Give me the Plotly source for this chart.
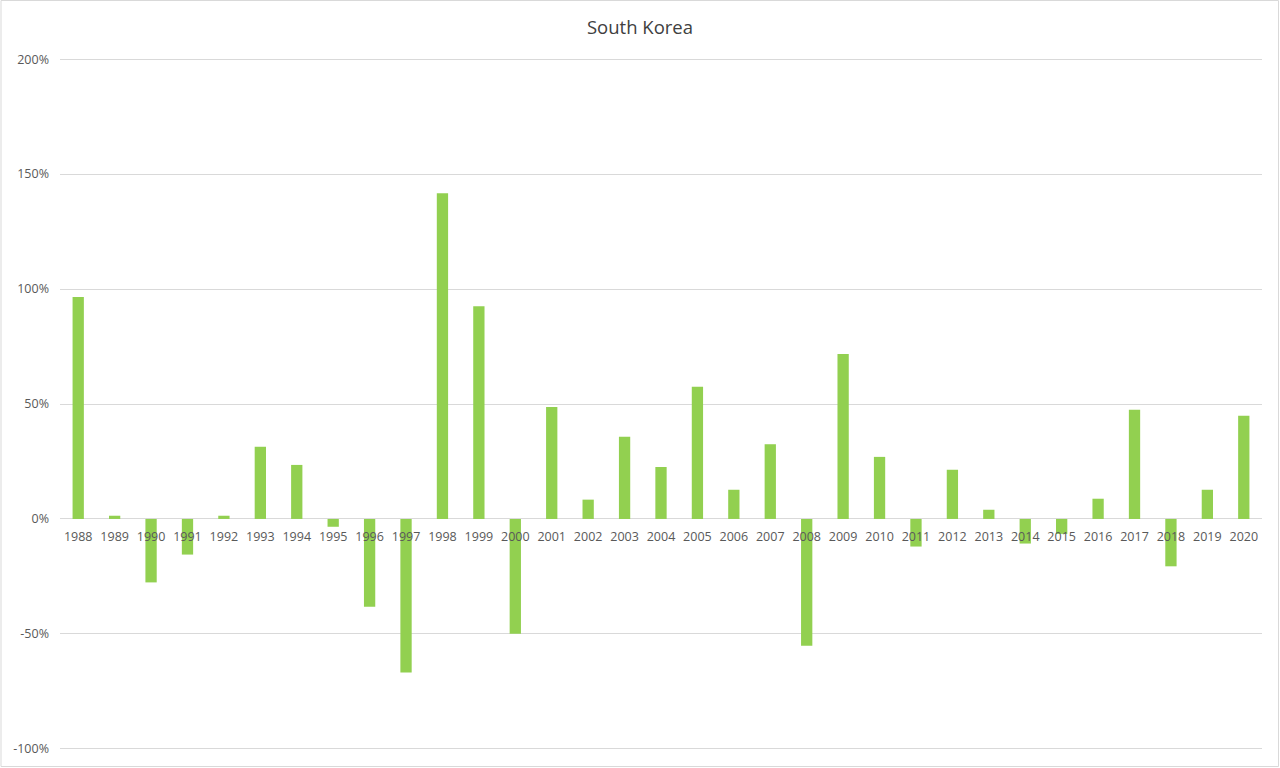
import plotly.graph_objects as go

years = [str(y) for y in range(1988, 2021)]
values = [96.5, 1.4, -27.6, -15.5, 1.4, 31.4, 23.5, -3.4, -38.2, -66.8,
          141.7, 92.5, -49.9, 48.7, 8.4, 35.8, 22.6, 57.5, 12.7, 32.5,
          -55.2, 71.7, 27.0, -12.0, 21.4, 4.0, -10.7, -6.5, 8.8, 47.5,
          -20.6, 12.7, 44.9]
ytick_vals = [-100, -50, 0, 50, 100, 150, 200]
ytick_text = ["-100%", "-50%", "0%", "50%", "100%", "150%", "200%"]

W, H = 1280, 768
L, R, T, B = 60, 18, 58, 18
pw, ph = W - L - R, H - T - B
y_lo, y_hi = -100.5, 200.5

fig = go.Figure()
fig.add_trace(go.Bar(x=years, y=values, marker_color="#92d050",
                     marker_line_width=0))

fig.update_layout(
    width=W, height=H,
    paper_bgcolor="white", plot_bgcolor="white",
    margin=dict(l=L, r=R, t=T, b=B),
    bargap=0.69,
    showlegend=False,
    font=dict(family="Open Sans, Noto Sans, sans-serif", color="#595959", size=13),
    title=dict(text="South Korea", x=0.5, xanchor="center", y=1 - 28 / H,
               yanchor="middle", font=dict(size=18.5, color="#404040")),
    xaxis=dict(type="category", anchor="free",
               position=(0 - y_lo) / (y_hi - y_lo),
               showgrid=False, showline=False, ticks="", ticklabelstandoff=9,
               tickfont=dict(size=12.5, color="#595959")),
    yaxis=dict(range=[y_lo, y_hi], tickvals=ytick_vals, ticktext=ytick_text,
               showgrid=True, gridcolor="#d9d9d9", gridwidth=1,
               zeroline=True, zerolinecolor="#d9d9d9", zerolinewidth=1,
               showline=False, ticks="", ticklabelstandoff=10,
               tickfont=dict(size=12.5, color="#595959")),
    shapes=[dict(type="rect", xref="paper", yref="paper",
                 x0=(1 - L) / pw, x1=1 + (R - 1.5) / pw,
                 y0=-(B - 1.5) / ph, y1=1 + (T - 0.5) / ph,
                 line=dict(color="#d9d9d9", width=1), layer="below")],
)

fig.write_html("out.html", config={"displayModeBar": False},
               post_script="document.body.style.margin='0';document.body.style.overflow='hidden';")
